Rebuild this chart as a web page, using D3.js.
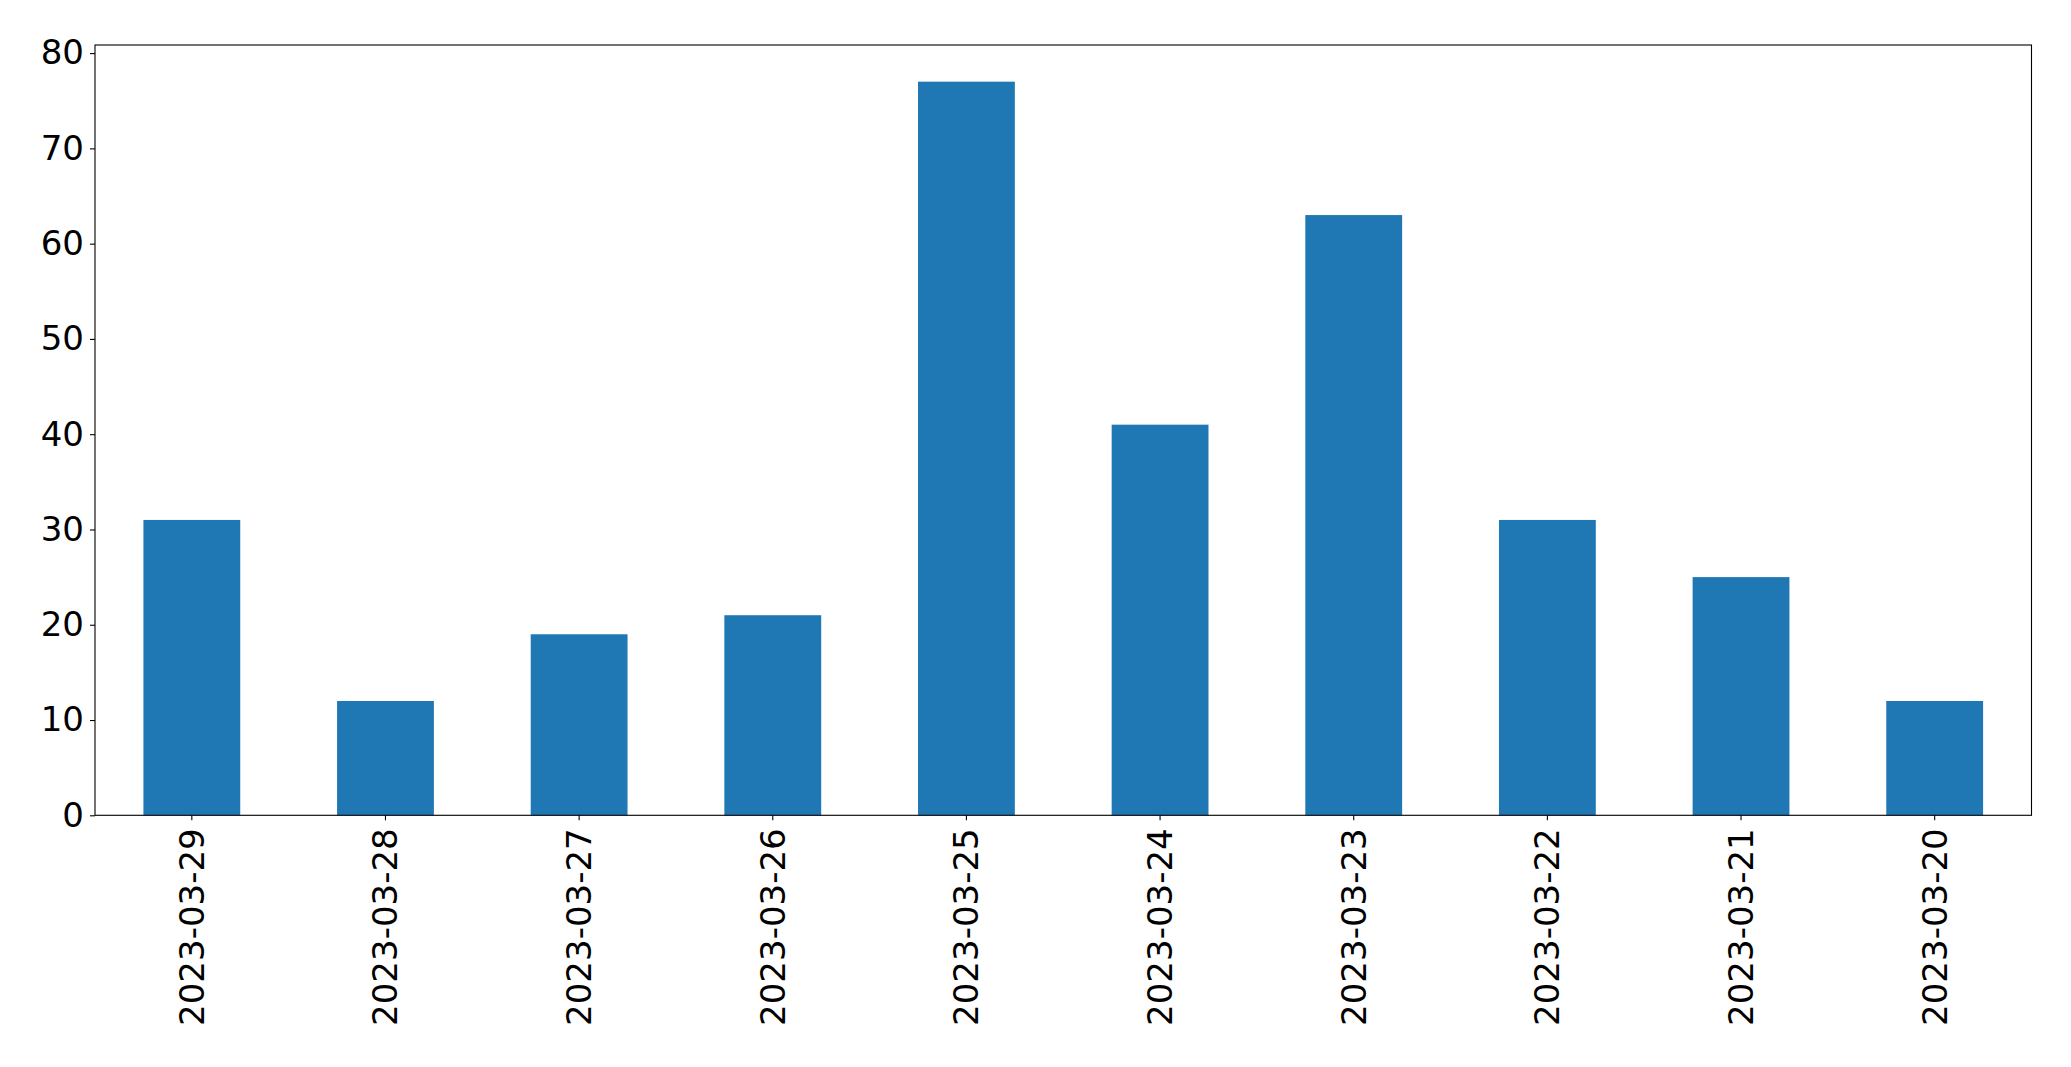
<!DOCTYPE html>
<html>
<head>
<meta charset="utf-8">
<script src="https://cdn.jsdelivr.net/npm/d3@7"></script>
<style>
  html, body { margin: 0; padding: 0; background: #fff; }
  svg { display: block; }
  text { font-family: "DejaVu Sans", sans-serif; fill: #000; }
</style>
</head>
<body>
<svg id="chart" width="2071" height="1067"></svg>
<script>
const categories = ["2023-03-29","2023-03-28","2023-03-27","2023-03-26","2023-03-25","2023-03-24","2023-03-23","2023-03-22","2023-03-21","2023-03-20"];
const values = [31, 12, 19, 21, 77, 41, 63, 31, 25, 12];
const yTicks = [0, 10, 20, 30, 40, 50, 60, 70, 80];

const W = 2071, H = 1067;
const margin = { left: 95, right: W - 2031.5, top: 45, bottom: H - 815.3 };
const svg = d3.select("#chart");

const x = d3.scaleBand()
  .domain(categories)
  .range([margin.left, W - margin.right])
  .paddingInner(0.5)
  .paddingOuter(0.25);

const y = d3.scaleLinear()
  .domain([0, d3.max(values) * 1.05])
  .range([H - margin.bottom, margin.top]);

svg.append("g")
  .selectAll("rect")
  .data(values)
  .join("rect")
  .attr("x", (d, i) => x(categories[i]))
  .attr("width", x.bandwidth())
  .attr("y", d => y(d))
  .attr("height", d => y(0) - y(d))
  .attr("fill", "#1f77b4");

const fontSize = 34;

const yAxis = svg.append("g")
  .attr("transform", `translate(${margin.left},0)`)
  .call(d3.axisLeft(y).tickValues(yTicks).tickSize(5).tickPadding(6).tickFormat(d3.format("d")));
yAxis.select(".domain").remove();
yAxis.selectAll("line").attr("stroke", "#000").attr("stroke-width", 1.1);
yAxis.selectAll("text").style("font-size", fontSize + "px").style("font-family", "DejaVu Sans");

const xAxis = svg.append("g")
  .attr("transform", `translate(0,${H - margin.bottom})`)
  .call(d3.axisBottom(x).tickSize(5).tickPadding(0));
xAxis.select(".domain").remove();
xAxis.selectAll("line").attr("stroke", "#000").attr("stroke-width", 1.1);
xAxis.selectAll("text")
  .style("font-size", fontSize + "px")
  .style("font-family", "DejaVu Sans")
  .attr("text-anchor", "end")
  .attr("dy", "0.35em")
  .attr("transform", "translate(0,13) rotate(-90)")
  .attr("x", 0)
  .attr("y", 0);

// frame
svg.append("rect")
  .attr("x", margin.left)
  .attr("y", margin.top)
  .attr("width", W - margin.right - margin.left)
  .attr("height", H - margin.bottom - margin.top)
  .attr("fill", "none")
  .attr("stroke", "#000")
  .attr("stroke-width", 1.1);
</script>
</body>
</html>
